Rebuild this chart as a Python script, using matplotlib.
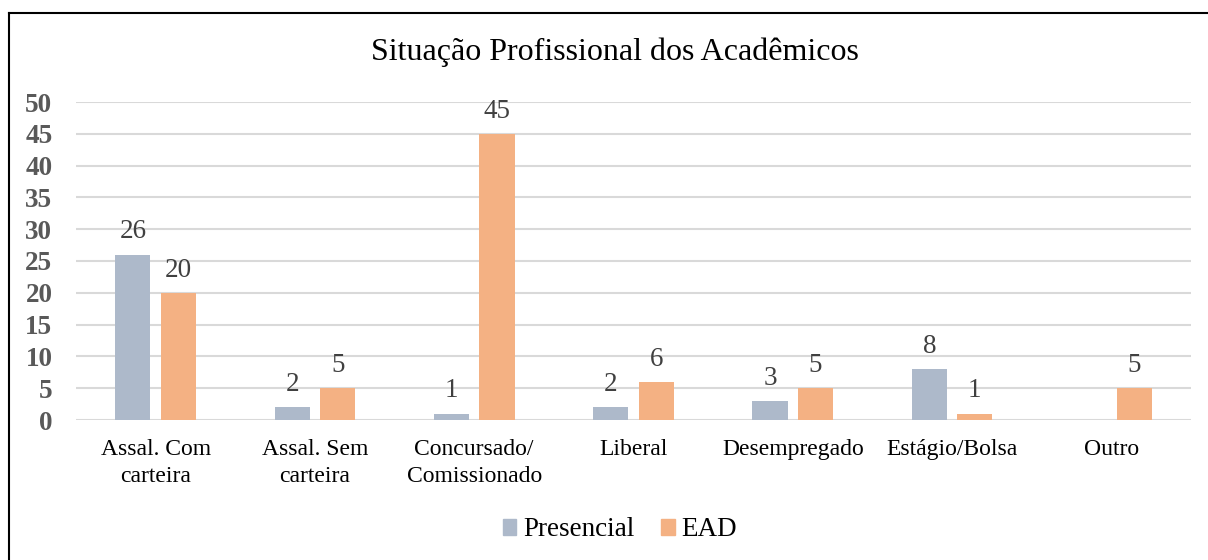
import matplotlib
matplotlib.use("Agg")
import matplotlib.pyplot as plt
import numpy as np
from matplotlib.lines import Line2D

categories = ["Assal. Com\ncarteira", "Assal. Sem\ncarteira", "Concursado/\nComissionado",
              "Liberal", "Desempregado", "Estágio/Bolsa", "Outro"]
presencial = [26, 2, 1, 2, 3, 8, None]
ead = [20, 5, 45, 6, 5, 1, 5]
yticks = [0, 5, 10, 15, 20, 25, 30, 35, 40, 45, 50]

plt.rcParams['font.family'] = ['Liberation Serif', 'DejaVu Serif']

fig = plt.figure(figsize=(12.08, 5.6), dpi=100)
ax = fig.add_axes([76/1208, 1-420/560, (1191-76)/1208, (420-102)/560])

c_pres = '#ADB9CA'
c_ead = '#F4B183'
x = np.arange(len(categories))
w = 0.22
off = 0.143

for i, v in enumerate(presencial):
    if v is None:
        continue
    ax.bar(x[i]-off, v, width=w, color=c_pres, zorder=3)
    ax.text(x[i]-off, v+1.6, str(v), ha='center', va='bottom', fontsize=19.5, color='#404040')
for i, v in enumerate(ead):
    ax.bar(x[i]+off, v, width=w, color=c_ead, zorder=3)
    ax.text(x[i]+off, v+1.6, str(v), ha='center', va='bottom', fontsize=19.5, color='#404040')

ax.set_xlim(-0.5, len(categories)-0.5)
ax.set_ylim(0, 50)
ax.set_yticks(yticks)
ax.set_yticklabels([str(t) for t in yticks], fontsize=19.5, fontweight='bold', color='#595959')
ax.set_xticks(x)
ax.set_xticklabels(categories, fontsize=17, color='black', linespacing=1.35)
ax.tick_params(axis='both', length=0)
ax.tick_params(axis='y', pad=17)
ax.tick_params(axis='x', pad=14)
for s in ax.spines.values():
    s.set_visible(False)
ax.grid(axis='y', color='#D9D9D9', linewidth=1.5, zorder=0)
ax.set_axisbelow(True)

fig.text(615/1208, 1-52/560, "Situação Profissional dos Acadêmicos", ha='center', va='center',
         fontsize=23, color='black')

handles = [plt.Rectangle((0, 0), 1, 1, color=c_pres), plt.Rectangle((0, 0), 1, 1, color=c_ead)]
fig.legend(handles, ['Presencial', 'EAD'], loc='center', bbox_to_anchor=(620/1208, 1-530/560),
           ncol=2, frameon=False, fontsize=19.5, handlelength=0.5, handleheight=0.5,
           handletextpad=0.25, columnspacing=1.0)

fig.add_artist(Line2D([8.5/1208, 8.5/1208], [0, 1-12.5/560], color='black', linewidth=1.5,
                      transform=fig.transFigure))
fig.add_artist(Line2D([8.5/1208, 1], [1-12.5/560, 1-12.5/560], color='black', linewidth=1.5,
                      transform=fig.transFigure))

fig.savefig("out.png", dpi=100)
